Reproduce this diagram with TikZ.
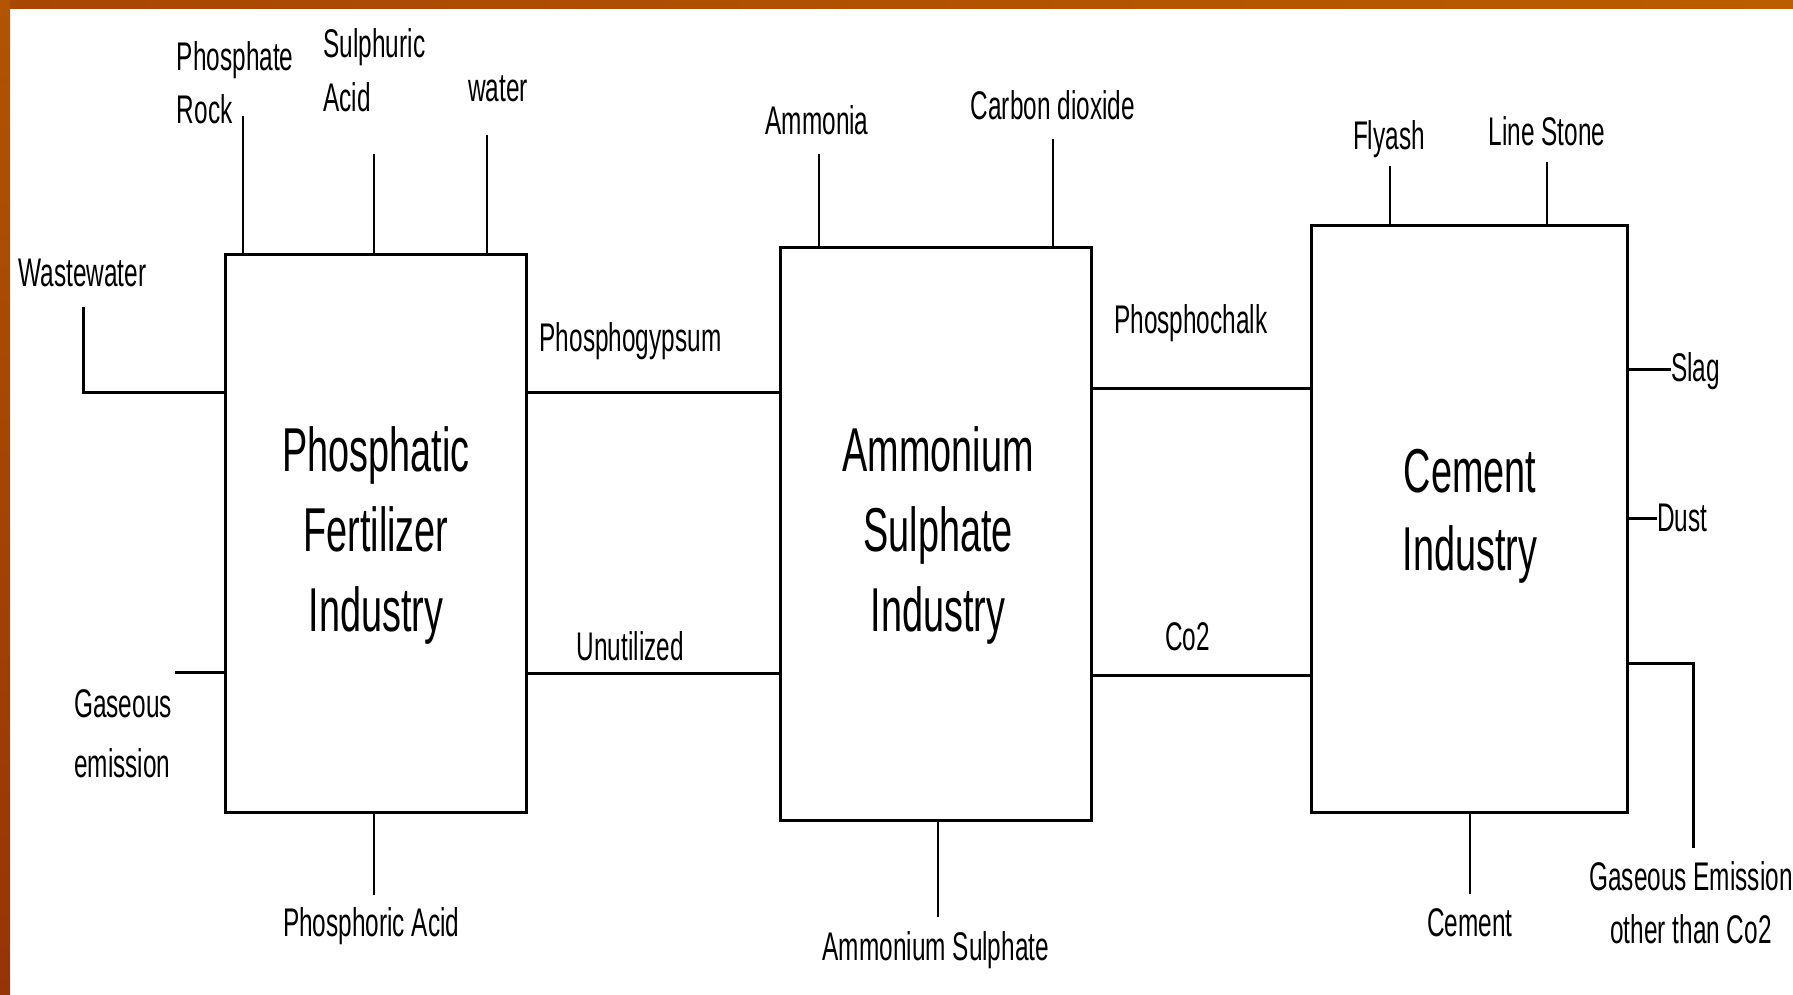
\documentclass[tikz,border=0pt]{standalone}
\usepackage{fontspec}
\setmainfont{Liberation Sans}[FakeStretch=0.61]
\definecolor{frameA}{RGB}{168,70,4}
\definecolor{frameB}{RGB}{186,93,0}
\definecolor{frameC}{RGB}{178,84,2}
\definecolor{frameD}{RGB}{150,52,8}
\begin{document}
\begin{tikzpicture}[x=1pt,y=-1pt,
  lbl/.style={inner sep=0pt, font=\fontsize{40}{53}\selectfont},
  big/.style={inner sep=0pt, align=center, font=\fontsize{62}{80}\selectfont},
  boxn/.style={draw, line width=3pt, inner sep=0pt, outer sep=0pt},
  hconn/.style={line width=3pt},
  vconn/.style={line width=2pt}]
\path[use as bounding box] (0,0) rectangle (1793,995);
% slide frame
\shade[left color=frameA, right color=frameB] (0,0) rectangle (1793,9);
\shade[top color=frameC, bottom color=frameD] (0,0) rectangle (10,995);

% process boxes
\node[boxn, minimum width=301pt, minimum height=558pt] (pf) at (375.5,533.5) {};
\node[boxn, minimum width=311pt, minimum height=573pt] (as) at (936,534) {};
\node[boxn, minimum width=316pt, minimum height=587.5pt] (ci) at (1469,518.75) {};

% box texts (base = baseline of the last line)
\node[big, anchor=base] (pftext) at (376,631.7) {Phosphatic\\Fertilizer\\Industry};
\node[big, anchor=base] (astext) at (938,631.7) {Ammonium\\Sulphate\\Industry};
\node[big, anchor=base, font=\fontsize{62}{78}\selectfont] (citext) at (1470,570) {Cement\\Industry};

% labels
\node[lbl, align=left, anchor=base west] (prock) at (176.7,123.3) {Phosphate\\Rock};
\node[lbl, align=left, anchor=base west, font=\fontsize{40}{54}\selectfont] (sacid) at (323.3,111.7) {Sulphuric\\Acid};
\node[lbl, anchor=base west] (water) at (468,101.7) {water};
\node[lbl, anchor=base west] (waste) at (18.3,286) {Wastewater};
\node[lbl, align=left, anchor=base west, font=\fontsize{40}{60}\selectfont] (gasem) at (74,777) {Gaseous\\emission};
\node[lbl, anchor=base west] (pgyp) at (539.4,351.7) {Phosphogypsum};
\node[lbl, anchor=base west] (unut) at (576.5,660) {Unutilized};
\node[lbl, anchor=base west] (phacid) at (282.8,936.7) {Phosphoric Acid};
\node[lbl, anchor=base west] (ammonia) at (765.3,135) {Ammonia};
\node[lbl, anchor=base west] (cdiox) at (970.6,120) {Carbon dioxide};
\node[lbl, anchor=base west] (amsul) at (822.4,960) {Ammonium Sulphate};
\node[lbl, anchor=base west] (pchalk) at (1114,333) {Phosphochalk};
\node[lbl, anchor=base west] (co2) at (1165,650) {Co2};
\node[lbl, anchor=base west] (flyash) at (1352.8,150) {Flyash};
\node[lbl, anchor=base west] (lstone) at (1488.4,145.7) {Line Stone};
\node[lbl, anchor=base west] (slag) at (1671,381) {Slag};
\node[lbl, anchor=base west] (dust) at (1657,531.7) {Dust};
\node[lbl, anchor=base west] (cement) at (1427,936.7) {Cement};
\node[lbl, align=center, anchor=base] (gasother) at (1691,943.3) {Gaseous Emission\\other than Co2};

% connector ends
\coordinate (prEnd) at (242.7,116);
\coordinate (saEnd) at (374,154);
\coordinate (waEnd) at (486.7,135);
\coordinate (wwEnd) at (83,307);
\coordinate (wwCorner) at (83,392.5);
\coordinate (geEnd) at (175,672);
\coordinate (pgY) at (650,392.5);
\coordinate (unY) at (650,673);
\coordinate (paEnd) at (374,894.5);
\coordinate (amEnd) at (819,154);
\coordinate (cdEnd) at (1053,139);
\coordinate (asEnd) at (937.5,917);
\coordinate (pcY) at (1200,388.5);
\coordinate (coY) at (1200,675.5);
\coordinate (faEnd) at (1390,166);
\coordinate (lsEnd) at (1547,162);
\coordinate (slEnd) at (1671,369.3);
\coordinate (duEnd) at (1657,518.3);
\coordinate (goCorner) at (1693.3,663.5);
\coordinate (goEnd) at (1693.3,848.3);
\coordinate (ceEnd) at (1469.6,894.3);

% phosphatic fertilizer connectors
\draw[vconn] (prEnd) -- (prEnd |- pf.north);
\draw[vconn] (saEnd) -- (saEnd |- pf.north);
\draw[vconn] (waEnd) -- (waEnd |- pf.north);
\draw[hconn] (wwEnd) -- (wwCorner) -- (wwCorner -| pf.west);
\draw[hconn] (geEnd) -- (geEnd -| pf.west);
\draw[vconn] (paEnd |- pf.south) -- (paEnd);
\draw[hconn] (pgY -| pf.east) -- (pgY -| as.west);
\draw[hconn] (unY -| pf.east) -- (unY -| as.west);

% ammonium sulphate connectors
\draw[vconn] (amEnd) -- (amEnd |- as.north);
\draw[vconn] (cdEnd) -- (cdEnd |- as.north);
\draw[vconn] (asEnd |- as.south) -- (asEnd);
\draw[hconn] (pcY -| as.east) -- (pcY -| ci.west);
\draw[hconn] (coY -| as.east) -- (coY -| ci.west);

% cement connectors
\draw[vconn] (faEnd) -- (faEnd |- ci.north);
\draw[vconn] (lsEnd) -- (lsEnd |- ci.north);
\draw[hconn] (slEnd -| ci.east) -- (slEnd);
\draw[hconn] (duEnd -| ci.east) -- (duEnd);
\draw[hconn] (goCorner -| ci.east) -- (goCorner) -- (goEnd);
\draw[vconn] (ceEnd |- ci.south) -- (ceEnd);
\end{tikzpicture}
\end{document}
